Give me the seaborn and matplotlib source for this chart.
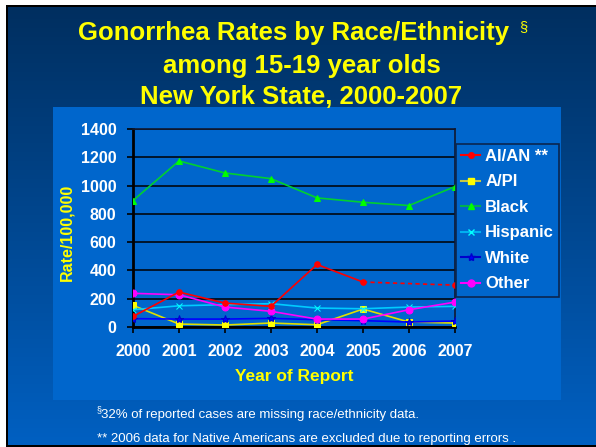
import numpy as np
import matplotlib
matplotlib.use("Agg")
import matplotlib.pyplot as plt
from matplotlib.lines import Line2D
from matplotlib.patches import Rectangle
import seaborn as sns

years = [2000, 2001, 2002, 2003, 2004, 2005, 2006, 2007]
year_labels = ["2000", "2001", "2002", "2003", "2004", "2005", "2006", "2007"]
aian = [75, 247, 169, 146, 442, 318, np.nan, 296]
api = [153, 21, 14, 28, 16, 127, 35, 28]
black = [894, 1174, 1089, 1049, 913, 882, 859, 993]
hispanic = [122, 150, 158, 165, 134, 129, 141, 146]
white = [59, 56, 56, 61, 52, 45, 35, 42]
other = [238, 228, 141, 111, 56, 56, 122, 176]
series_names = ["AI/AN **", "A/PI", "Black", "Hispanic", "White", "Other"]
yticks = [0, 200, 400, 600, 800, 1000, 1200, 1400]

FONT = "Liberation Sans"
W, H = 596, 447
fig = plt.figure(figsize=(W / 100, H / 100), dpi=100)

# background (pixel coordinates, y down)
bg = fig.add_axes([0, 0, 1, 1])
bg.set_xlim(0, W)
bg.set_ylim(H, 0)
bg.axis("off")
top_c = np.array([0x00, 0x2E, 0x5E]) / 255
bot_c = np.array([0x00, 0x60, 0xC2]) / 255
t = np.linspace(0, 1, 256)[:, None, None]
grad = top_c * (1 - t) + bot_c * t
grad = np.repeat(grad, 2, axis=1)
bg.imshow(grad, extent=[0, W, H, 0], aspect="auto", zorder=0)
bg.add_patch(Rectangle((53, 107), 508, 293, facecolor="#0066CC", edgecolor="none", zorder=1))
# borders
bg.add_patch(Rectangle((0, 0), 6, H, facecolor="white", edgecolor="none", zorder=2))
bg.add_patch(Rectangle((0, 0), W, 4.5, facecolor="white", edgecolor="none", zorder=2))
bg.add_patch(Rectangle((6, 4.5), 2, H, facecolor="black", edgecolor="none", zorder=3))
bg.add_patch(Rectangle((6, 4.5), W, 2, facecolor="black", edgecolor="none", zorder=3))
bg.add_patch(Rectangle((6, 445), W, 2, facecolor="black", edgecolor="none", zorder=3))

# titles
tkw = dict(color="#FFFF00", fontweight="bold", family=FONT, fontsize=18.5, ha="center", va="baseline", zorder=5)
bg.text(293.5, 40, "Gonorrhea Rates by Race/Ethnicity", **tkw)
bg.text(519, 31, "§", color="#FFFF00", family=FONT, fontsize=10.5, ha="left", va="baseline", zorder=5)
bg.text(302, 73, "among 15-19 year olds", **tkw)
bg.text(301.5, 104, "New York State, 2000-2007", **tkw)

# footnotes
fkw = dict(color="white", family=FONT, fontsize=9.5, ha="left", va="baseline", zorder=5)
bg.text(101, 418, "32% of reported cases are missing race/ethnicity data.", **fkw)
bg.text(96.5, 412, "§", color="white", family=FONT, fontsize=6.5, ha="left", va="baseline", zorder=5)
bg.text(97, 442, "** 2006 data for Native Americans are excluded due to reporting errors .", **fkw)

# main axes
ax = fig.add_axes([133 / W, 1 - 327 / H, (455 - 133) / W, (327 - 129) / H])
ax.set_facecolor("none")

styles = [
    dict(color="#FF0000", marker="o", markersize=4, mfc="#FF0000", mec="#FF0000"),
    dict(color="#E0E000", marker="s", markersize=4.5, mfc="#FFFF00", mec="#FFFF00"),
    dict(color="#00D030", marker="^", markersize=5, mfc="#00FF00", mec="#00FF00"),
    dict(color="#00CCFF", marker="x", markersize=5, mfc="#00FFFF", mec="#00FFFF", mew=1.2),
    dict(color="#0000FF", marker="*", markersize=6, mfc="#0000FF", mec="#0000CC"),
    dict(color="#FF00FF", marker="o", markersize=5, mfc="#FF00FF", mec="#FF00FF"),
]
data = [aian, api, black, hispanic, white, other]

for vals, st in zip(data[1:], styles[1:]):
    sns.lineplot(x=years, y=vals, ax=ax, color=st["color"], marker=st["marker"],
                 markersize=st["markersize"], markerfacecolor=st["mfc"],
                 markeredgecolor=st["mec"], linewidth=1.2, legend=False, zorder=4)

# AI/AN: solid through 2005, dashed gap over 2006, marker at 2007
st = styles[0]
sns.lineplot(x=years[:6], y=aian[:6], ax=ax, color=st["color"], marker="o",
             markersize=st["markersize"], markerfacecolor=st["mfc"], markeredgecolor=st["mec"],
             linewidth=1.2, legend=False, zorder=4)
sns.lineplot(x=[years[5], years[7]], y=[aian[5], aian[7]], ax=ax, color=st["color"],
             linestyle=(0, (2.5, 2)), linewidth=1.2, legend=False, zorder=4)
sns.lineplot(x=[years[7]], y=[aian[7]], ax=ax, color=st["color"], marker="o",
             markersize=st["markersize"], markerfacecolor=st["mfc"], markeredgecolor=st["mec"],
             linewidth=0, legend=False, zorder=4)

ax.set_xlim(2000, 2007)
ax.set_ylim(0, 1400)
ax.set_yticks(yticks)
ax.set_yticklabels([str(v) for v in yticks])
ax.set_xticks(years)
ax.set_xticklabels(year_labels)
ax.grid(axis="y", color="black", linewidth=1.1, zorder=1)
ax.grid(axis="x", visible=False)
ax.set_axisbelow(True)
for side in ["left", "bottom"]:
    ax.spines[side].set_color("black")
    ax.spines[side].set_linewidth(2)
for side in ["top", "right"]:
    ax.spines[side].set_color("#101830")
    ax.spines[side].set_linewidth(1.2)
ax.tick_params(axis="both", colors="black", length=4, width=1.2, direction="out")
ax.tick_params(axis="y", pad=8)
ax.tick_params(axis="x", pad=8)
for lbl in ax.get_xticklabels() + ax.get_yticklabels():
    lbl.set_color("white")
    lbl.set_fontweight("bold")
    lbl.set_family(FONT)
    lbl.set_fontsize(11.5)

ax.set_xlabel("")
ax.set_ylabel("")
bg.text(294, 377, "Year of Report", color="#FFFF00", fontweight="bold", family=FONT,
        fontsize=12.5, ha="center", va="center", zorder=5)
bg.text(67, 232, "Rate/100,000", color="#FFFF00", fontweight="bold", family=FONT,
        fontsize=11.5, ha="center", va="center", rotation=90, zorder=5)

# legend
leg_lines = {
    0: "#FF0000", 1: "#C8C840", 2: "#00B050", 3: "#00B0F0", 4: "#0000CC", 5: "#FF00FF"
}
handles = []
for i, st in enumerate(styles):
    handles.append(Line2D([0], [0], color=leg_lines[i], linewidth=1.5, marker=st["marker"],
                          markersize=st["markersize"], markerfacecolor=st["mfc"],
                          markeredgecolor=st["mec"]))
leg = ax.legend(handles, series_names, loc="upper left",
                bbox_to_anchor=(456 / W, 1 - 144 / H), bbox_transform=fig.transFigure,
                frameon=True, fancybox=False, framealpha=1, facecolor="#0066CC",
                edgecolor="#0A2650", borderaxespad=0, borderpad=0.3, handlelength=1.15,
                handletextpad=0.3, labelspacing=0.63,
                prop=dict(family=FONT, weight="bold", size=12))
leg.get_frame().set_linewidth(1.2)
for txt in leg.get_texts():
    txt.set_color("white")

fig.savefig("out.png", dpi=100)
